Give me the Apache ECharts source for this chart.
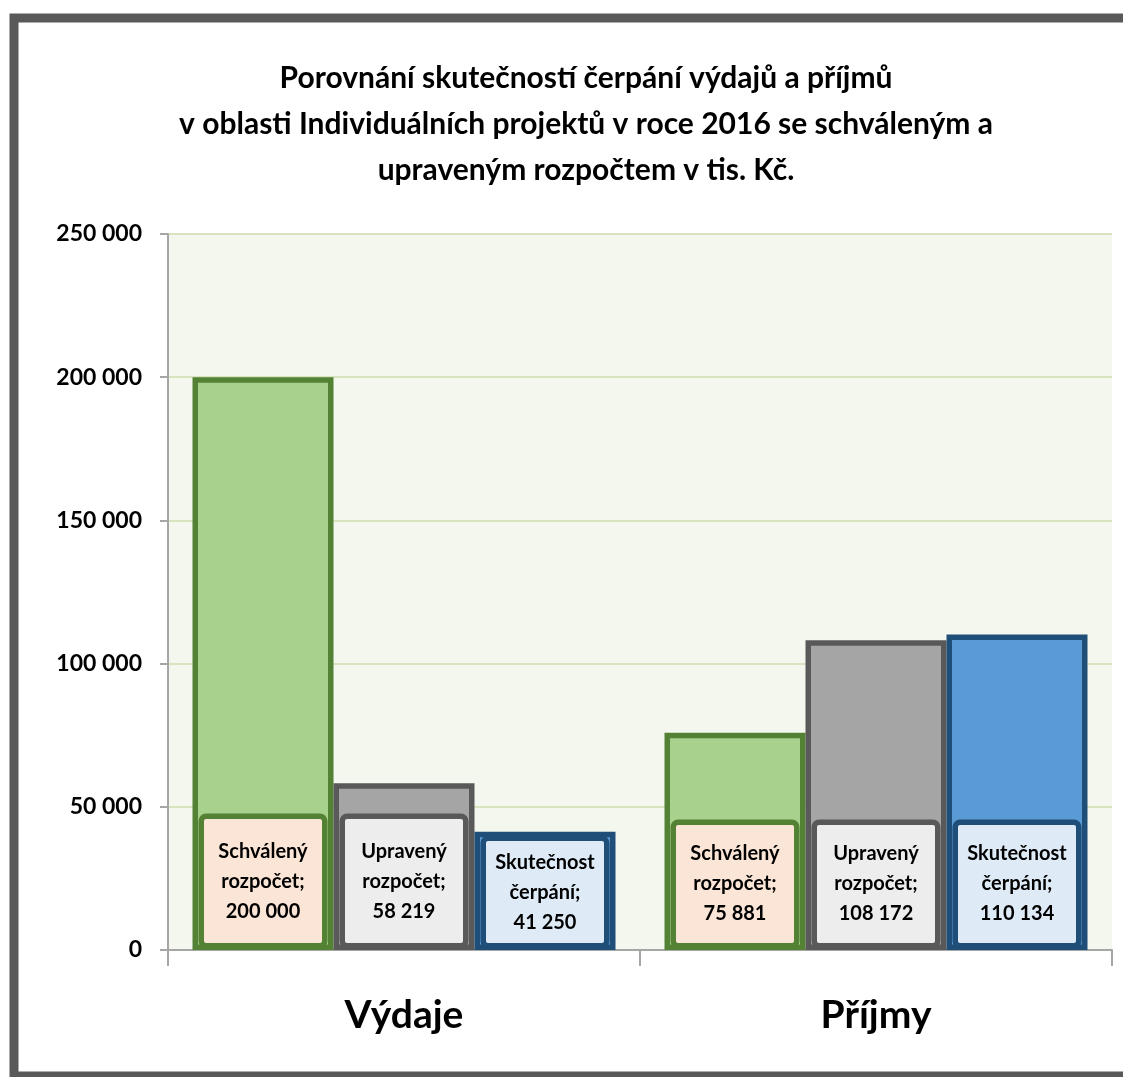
<!DOCTYPE html>
<html>
<head>
<meta charset="utf-8">
<script src="https://cdn.jsdelivr.net/npm/echarts@6/dist/echarts.min.js"></script>
<style>
html,body{margin:0;padding:0;background:#fff;}
#chart{width:1123px;height:1077px;}
</style>
</head>
<body>
<div id="chart"></div>
<script>
const categories = ['Výdaje', 'Příjmy'];
const seriesNames = ['Schválený rozpočet', 'Upravený rozpočet', 'Skutečnost čerpání'];
const schvaleny = [200000, 75881];
const upraveny = [58219, 108172];
const skutecnost = [41250, 110134];
const yMin = 0, yMax = 250000, yInterval = 50000;
const titleText = 'Porovnání skutečností čerpání výdajů a příjmů\nv oblasti Individuálních projektů v roce 2016 se schváleným a\nupraveným rozpočtem v tis. Kč.';

const FONT = 'Lato';
function fmt(v) { return String(v).replace(/\B(?=(\d{3})+(?!\d))/g, ' '); }

const styles = [
  { fill: '#a9d18e', stroke: '#548235', labelBg: '#fbe5d6' },
  { fill: '#a5a5a5', stroke: '#595959', labelBg: '#ededed' },
  { fill: '#5b9bd5', stroke: '#1f4e79', labelBg: '#deebf7' }
];
const values = [schvaleny, upraveny, skutecnost];

function makeSeries(i) {
  const st = styles[i];
  const data = values[i].map((v, j) => {
    const d = { value: v };
    // the small "Výdaje / Skutečnost" bar gets a shorter label box
    if (i === 2 && j === 0) d.label = { padding: [7, 4, 5, 4] };
    if (j === 0 && i < 2) d.label = { padding: [18, 4, 16, 4] };
    return d;
  });
  return {
    name: seriesNames[i],
    type: 'bar',
    barWidth: 141,
    barGap: '0%',
    data: data,
    itemStyle: { color: st.fill, borderColor: st.stroke, borderWidth: 5.5 },
    emphasis: { disabled: true },
    label: {
      show: true,
      position: 'insideBottom',
      distance: 7,
      formatter: function (p) {
        const parts = p.seriesName.split(' ');
        return parts[0] + '\n' + parts[1] + ';\n' + fmt(p.value);
      },
      fontFamily: FONT,
      fontWeight: 'bold',
      fontSize: 20,
      lineHeight: 30,
      color: '#000',
      align: 'center',
      width: 110,
      padding: [14, 4, 14, 4],
      backgroundColor: st.labelBg,
      borderColor: st.stroke,
      borderWidth: 5.5,
      borderRadius: 2
    }
  };
}

const chart = echarts.init(document.getElementById('chart'), null, { renderer: 'canvas' });
chart.setOption({
  animation: false,
  backgroundColor: '#ffffff',
  title: {
    text: titleText,
    left: 581,
    top: 50,
    textAlign: 'center',
    textStyle: { fontFamily: FONT, fontWeight: 'bold', fontSize: 30, lineHeight: 46, color: '#000' }
  },
  graphic: [{
    type: 'rect',
    shape: { x: 14, y: 18, width: 1200, height: 1058 },
    style: { fill: null, stroke: '#595959', lineWidth: 9 },
    silent: true,
    z: 100
  }],
  grid: {
    left: 168, right: 11, top: 234, bottom: 1077 - 950,
    show: true, backgroundColor: '#f4f7ee', borderWidth: 0,
    containLabel: false
  },
  xAxis: {
    type: 'category',
    data: categories,
    axisLine: { lineStyle: { color: '#a6a6a6', width: 2 } },
    axisTick: { show: true, length: 16, lineStyle: { color: '#a6a6a6', width: 2 } },
    axisLabel: { fontFamily: FONT, fontWeight: 'bold', fontSize: 39, color: '#000', margin: 46 }
  },
  yAxis: {
    type: 'value',
    min: yMin, max: yMax, interval: yInterval,
    axisLine: { show: true, lineStyle: { color: '#a6a6a6', width: 2 } },
    axisTick: { show: true, length: 8, lineStyle: { color: '#a6a6a6', width: 2 } },
    splitLine: { show: true, lineStyle: { color: '#d7e4bd', width: 2 } },
    axisLabel: { fontFamily: FONT, fontWeight: 'bold', fontSize: 23, color: '#000', margin: 26, formatter: fmt }
  },
  series: [0, 1, 2].map(makeSeries)
});
</script>
</body>
</html>
